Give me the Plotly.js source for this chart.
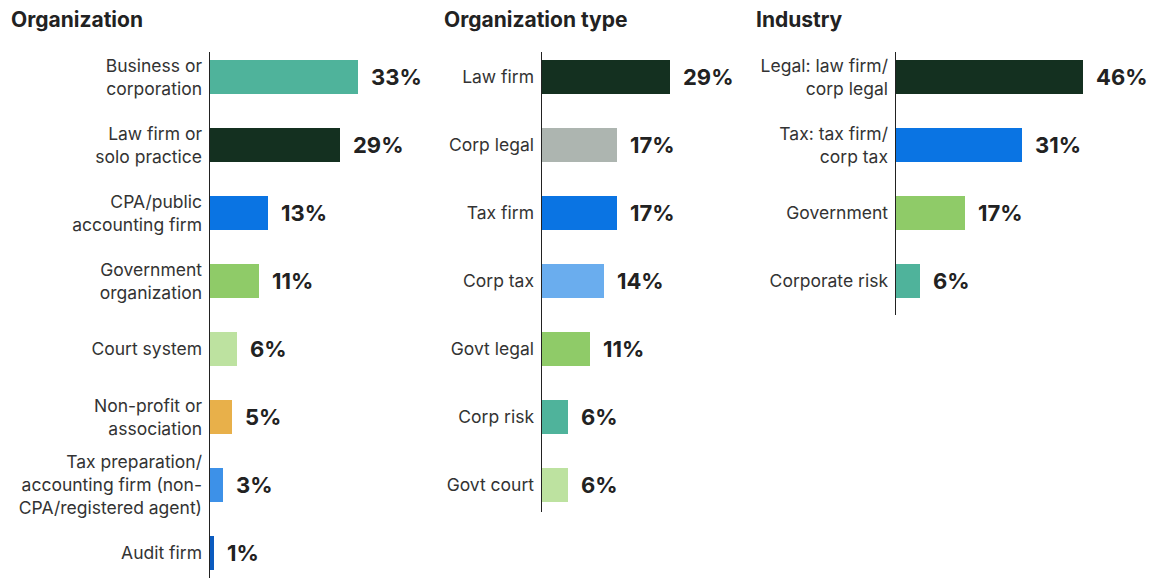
<!DOCTYPE html>
<html><head><meta charset="utf-8">
<script src="https://cdn.plot.ly/plotly-3.0.1.min.js"></script>
<style>html,body{margin:0;padding:0;background:#fff}#chart{width:1162px;height:578px}</style>
</head><body><div id="chart"></div>
<script>
// Panel 1: Organization
const orgCategories = ["Business or<br>corporation","Law firm or<br>solo practice","CPA/public<br>accounting firm","Government<br>organization","Court system","Non-profit or<br>association","Tax preparation/<br>accounting firm (non-<br>CPA/registered agent)","Audit firm"];
const orgValues = [33,29,13,11,6,5,3,1];
const orgColors = ["#4FB39B","#143020","#0A74E3","#8FCB68","#BDE2A0","#E8B04A","#3D91E8","#0B5BBF"];
// Panel 2: Organization type
const typeCategories = ["Law firm","Corp legal","Tax firm","Corp tax","Govt legal","Corp risk","Govt court"];
const typeValues = [29,17,17,14,11,6,6];
const typeColors = ["#143020","#ADB5B0","#0A74E3","#6AADEE","#8FCB68","#4FB39B","#BDE2A0"];
// Panel 3: Industry
const indCategories = ["Legal: law firm/<br>corp legal","Tax: tax firm/<br>corp tax","Government","Corporate risk"];
const indValues = [46,31,17,6];
const indColors = ["#143020","#0A74E3","#8FCB68","#4FB39B"];
const panelTitles = ["Organization","Organization type","Industry"];

const W = 1162, H = 578;
const FONT = "Inter, 'Noto Sans', sans-serif";
const px = v => v / W;
const py = v => 1 - v / H;

const panels = [
  {cats: orgCategories, vals: orgValues, cols: orgColors, x0: 210, x1: 434, yTop: 52, yBot: 578, title: panelTitles[0], tx: 9},
  {cats: typeCategories, vals: typeValues, cols: typeColors, x0: 542, x1: 762, yTop: 52, yBot: 512, title: panelTitles[1], tx: 442},
  {cats: indCategories, vals: indValues, cols: indColors, x0: 896, x1: 1099.5, yTop: 52, yBot: 315, title: panelTitles[2], tx: 754}
];

const data = [], annotations = [];
const layout = {
  width: W, height: H, margin: {l: 0, r: 0, t: 0, b: 0},
  paper_bgcolor: "#fff", plot_bgcolor: "rgba(0,0,0,0)",
  showlegend: false, bargap: 0, font: {family: FONT, color: "#333"}
};
const pitch = 68, firstCenter = 77;
panels.forEach((p, i) => {
  const n = i + 1;
  const xa = "x" + (n === 1 ? "" : n), ya = "y" + (n === 1 ? "" : n);
  data.push({
    type: "bar", orientation: "h", x: p.vals, y: p.cats,
    xaxis: xa, yaxis: ya, width: 0.49,
    marker: {color: p.cols}, hoverinfo: "skip", cliponaxis: false
  });
  const top = (p.yTop - firstCenter) / pitch;
  const bot = (p.yBot - firstCenter) / pitch;
  layout["xaxis" + (n === 1 ? "" : n)] = {
    domain: [px(p.x0), px(p.x1)], range: [0, 50], visible: false, anchor: ya, fixedrange: true
  };
  layout["yaxis" + (n === 1 ? "" : n)] = {
    domain: [py(p.yBot), py(p.yTop)], range: [bot, top], type: "category",
    anchor: xa, showline: true, linecolor: "#222", linewidth: 1.5,
    showgrid: false, zeroline: false, ticks: "", ticklabelstandoff: 3,
    tickfont: {family: FONT, size: 17.5, color: "#333"}, fixedrange: true
  };
  p.vals.forEach((v, k) => {
    annotations.push({
      xref: xa, yref: ya, x: v, y: p.cats[k], text: "<b>" + v + "%</b>",
      xanchor: "left", yanchor: "middle", xshift: 11, showarrow: false,
      font: {family: FONT, size: 22, color: "#222"}
    });
  });
  annotations.push({
    xref: "paper", yref: "paper", x: px(p.tx), y: py(20), xanchor: "left", yanchor: "middle",
    text: "<b>" + p.title + "</b>", showarrow: false,
    font: {family: FONT, size: 21, color: "#222"}
  });
});
layout.annotations = annotations;
Plotly.newPlot("chart", data, layout, {displayModeBar: false, staticPlot: true});
</script></body></html>
